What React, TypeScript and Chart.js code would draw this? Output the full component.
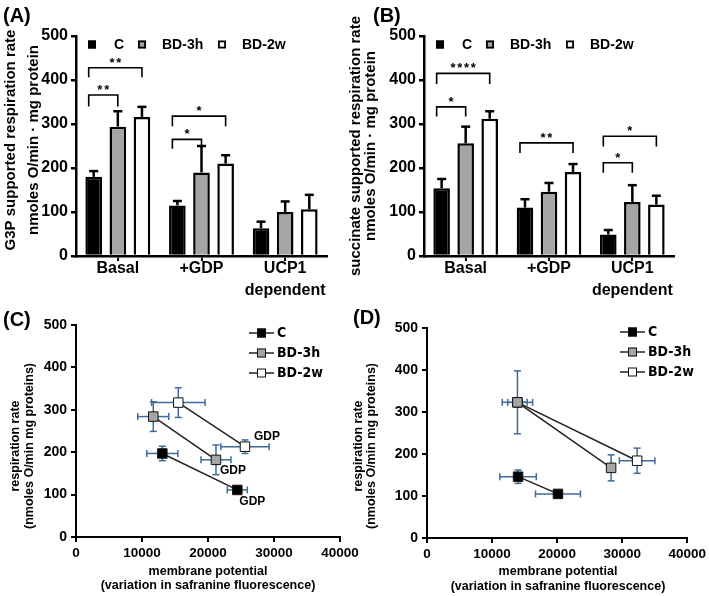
import React, { useEffect, useRef } from 'react';
import { Chart, registerables } from 'chart.js';
Chart.register(...registerables);

const W = 709;
const H = 596;
const SANS = '"Liberation Sans", Arial, sans-serif';
const NARROW = '"Liberation Sans Narrow", "DejaVu Sans Condensed", sans-serif';
const ERR_BLUE = '#3f6a9c';

// ---------- Panels A & B (bar charts) ----------
const categories = [['Basal'], ['+GDP'], ['UCP1', 'dependent']];
const groups = ['C', 'BD-3h', 'BD-2w'];
const barFills = ['#000000', '#a5a5a5', '#ffffff'];
const barYTicks = [0, 100, 200, 300, 400, 500];

// G3P supported respiration (panel A)
const g3pC = [180, 115, 63];
const g3pCErr = [13, 10, 15];
const g3p3h = [294, 190, 100];
const g3p3hErr = [35, 60, 24];
const g3p2w = [316, 210, 106];
const g3p2wErr = [23, 19, 33];

// succinate supported respiration (panel B)
const sucC = [154, 110, 49];
const sucCErr = [21, 19, 10];
const suc3h = [256, 146, 123];
const suc3hErr = [38, 20, 38];
const suc2w = [312, 191, 117];
const suc2wErr = [17, 18, 20];

// significance brackets: [category, fromGroup, toGroup, topValue, bottomValue, label]
const g3pBrackets = [
  [0, 0, 2, 428, 406, '**'],
  [0, 0, 1, 366, 340, '**'],
  [1, 0, 2, 318, 295, '*'],
  [1, 0, 1, 265, 244, '*'],
];
const sucBrackets = [
  [0, 0, 2, 415, 391, '****'],
  [0, 0, 1, 339, 317, '*'],
  [1, 0, 2, 257, 234, '**'],
  [2, 0, 2, 272, 249, '*'],
  [2, 0, 1, 212, 189, '*'],
];

// ---------- Panels C & D (scatter: membrane potential vs respiration) ----------
const scatterXTicks = [0, 10000, 20000, 30000, 40000];
const scatterYTicks = [0, 100, 200, 300, 400, 500];
const pointFills = ['#000000', '#a5a5a5', '#ffffff'];

// panel C (G3P)
const cC_x = [13080, 24440];
const cC_y = [197, 111];
const cC_xErr = [2350, 1520];
const cC_yErr = [17, 8];
const c3h_x = [11710, 21210];
const c3h_y = [284, 182];
const c3h_xErr = [2350, 2270];
const c3h_yErr = [35, 35];
const c2w_x = [15500, 25600];
const c2w_y = [317, 213];
const c2w_xErr = [4050, 3660];
const c2w_yErr = [35, 16];
const gdpLabel = 'GDP';

// panel D (succinate)
const dC_x = [14000, 20130];
const dC_y = [146, 105];
const dC_xErr = [2800, 3450];
const dC_yErr = [16, 3];
const d3h_x = [13900, 28300];
const d3h_y = [323, 167];
const d3h_xErr = [2330, 0];
const d3h_yErr = [75, 31];
const d2w_x = [13900, 32300];
const d2w_y = [323, 184];
const d2w_xErr = [1500, 2730];
const d2w_yErr = [10, 30];

// ---------- text ----------
const g3pTitle = ['G3P supported respiration rate', 'nmoles O/min \u00b7 mg protein'];
const sucTitle = ['succinate supported respiration rate', 'nmoles O/min \u00b7 mg protein'];
const respTitle = ['respiration rate', '(nmoles O/min mg proteins)'];
const potTitle = ['membrane potential', '(variation in safranine fluorescence)'];

function line(ctx: CanvasRenderingContext2D, x1: number, y1: number, x2: number, y2: number) {
  ctx.beginPath();
  ctx.moveTo(x1, y1);
  ctx.lineTo(x2, y2);
  ctx.stroke();
}

function makeDeco(cfg: any) {
  return {
    id: 'deco',
    beforeDatasetsDraw(chart: any) {
      if (!cfg.scatterErr) return;
      const ctx = chart.ctx;
      const xs = chart.scales.x;
      const ys = chart.scales.y;
      ctx.save();
      ctx.strokeStyle = ERR_BLUE;
      ctx.lineWidth = 1.5;
      cfg.scatterErr.forEach((e: any, di: number) => {
        const meta = chart.getDatasetMeta(di);
        meta.data.forEach((pt: any, i: number) => {
          const d = chart.data.datasets[di].data[i];
          const xe = e.x[i];
          const ye = e.y[i];
          const px = pt.x;
          const py = pt.y;
          if (xe > 0) {
            const l = xs.getPixelForValue(d.x - xe);
            const r = xs.getPixelForValue(d.x + xe);
            line(ctx, l, py, r, py);
            line(ctx, l, py - 3.5, l, py + 3.5);
            line(ctx, r, py - 3.5, r, py + 3.5);
          }
          if (ye > 0) {
            const t = ys.getPixelForValue(d.y + ye);
            const b = ys.getPixelForValue(d.y - ye);
            line(ctx, px, t, px, b);
            line(ctx, px - 3.5, t, px + 3.5, t);
            line(ctx, px - 3.5, b, px + 3.5, b);
          }
        });
      });
      ctx.restore();
    },
    afterDatasetsDraw(chart: any) {
      const ctx: CanvasRenderingContext2D = chart.ctx;
      const ys = chart.scales.y;
      ctx.save();
      // bar error bars
      if (cfg.barErr) {
        ctx.strokeStyle = '#000';
        ctx.lineWidth = 2.5;
        cfg.barErr.forEach((errs: number[], di: number) => {
          const meta = chart.getDatasetMeta(di);
          meta.data.forEach((bar: any, i: number) => {
            const v = chart.data.datasets[di].data[i];
            const top = ys.getPixelForValue(v + errs[i]);
            line(ctx, bar.x, bar.y, bar.x, top);
            line(ctx, bar.x - 4.5, top, bar.x + 4.5, top);
          });
        });
      }
      // significance brackets
      if (cfg.brackets) {
        ctx.strokeStyle = '#000';
        ctx.lineWidth = 1.6;
        ctx.fillStyle = '#000';
        ctx.font = 'bold 13px ' + SANS;
        ctx.textAlign = 'center';
        ctx.textBaseline = 'alphabetic';
        cfg.brackets.forEach((b: any) => {
          const [cat, g1, g2, vTop, vBot, label] = b;
          const b1 = chart.getDatasetMeta(g1).data[cat];
          const b2 = chart.getDatasetMeta(g2).data[cat];
          const x1 = b1.x - 5;
          const x2 = b2.x;
          const pt = ys.getPixelForValue(vTop);
          const pb = ys.getPixelForValue(vBot);
          ctx.beginPath();
          ctx.moveTo(x1, pb);
          ctx.lineTo(x1, pt);
          ctx.lineTo(x2, pt);
          ctx.lineTo(x2, pb);
          ctx.stroke();
          const n = label.length;
          const cx = (x1 + x2) / 2;
          for (let k = 0; k < n; k++) {
            ctx.fillText('*', cx + (k - (n - 1) / 2) * 6.8, pt - 1);
          }
        });
      }
      // bar legend
      if (cfg.barLegend) {
        const L = chart.chartArea.left;
        const sq = [12, 62, 142];
        const tx = [38, 86, 166];
        ctx.font = 'bold 14px ' + SANS;
        ctx.textAlign = 'left';
        ctx.textBaseline = 'alphabetic';
        groups.forEach((g, i) => {
          ctx.fillStyle = barFills[i];
          ctx.fillRect(L + sq[i], 40.5, 8, 8);
          ctx.strokeStyle = '#000';
          ctx.lineWidth = 1.8;
          ctx.strokeRect(L + sq[i] + 0.9, 41.4, 6.2, 6.2);
          ctx.fillStyle = '#000';
          ctx.fillText(g, L + tx[i], 48.5);
        });
      }
      // line legend
      if (cfg.lineLegend) {
        const { x: L, rows } = cfg.lineLegend;
        ctx.font = 'bold 14px ' + NARROW;
        ctx.textAlign = 'left';
        ctx.textBaseline = 'middle';
        groups.forEach((g, i) => {
          const y = rows[i];
          ctx.strokeStyle = '#222';
          ctx.lineWidth = 1.5;
          line(ctx, L, y, L + 25, y);
          ctx.fillStyle = pointFills[i];
          ctx.fillRect(L + 8, y - 4.5, 9, 9);
          ctx.strokeStyle = '#111';
          ctx.lineWidth = 1;
          ctx.strokeRect(L + 8.5, y - 4, 8, 8);
          ctx.fillStyle = '#000';
          ctx.fillText(g, L + 28, y + 0.5);
        });
      }
      // point labels (GDP)
      if (cfg.pointLabels) {
        ctx.font = 'bold 12px ' + SANS;
        ctx.fillStyle = '#000';
        ctx.textAlign = 'left';
        ctx.textBaseline = 'middle';
        cfg.pointLabels.forEach((p: any) => {
          const pt = chart.getDatasetMeta(p.ds).data[p.idx];
          ctx.fillText(p.text, pt.x + p.dx, pt.y + p.dy);
        });
      }
      // free texts
      if (cfg.texts) {
        ctx.fillStyle = '#000';
        cfg.texts.forEach((t: any) => {
          ctx.save();
          ctx.font = t.font;
          ctx.textAlign = t.align || 'left';
          ctx.textBaseline = t.baseline || 'alphabetic';
          ctx.translate(t.x, t.y);
          if (t.rot) ctx.rotate(t.rot);
          ctx.fillText(t.t, 0, 0);
          ctx.restore();
        });
      }
      ctx.restore();
    },
  };
}

function barConfig(vals: number[][], errs: number[][], brackets: any[], area: any, texts: any[]) {
  const yW = 60;
  const xH = 56;
  return {
    type: 'bar',
    data: {
      labels: categories,
      datasets: groups.map((g, i) => ({
        label: g,
        data: vals[i],
        backgroundColor: barFills[i],
        borderColor: '#000',
        borderWidth: 2.5,
        categoryPercentage: 0.865,
        barPercentage: 0.69,
      })),
    },
    options: {
      responsive: false,
      animation: false,
      events: [],
      layout: {
        padding: { left: area.left - yW, top: area.top, right: W - area.right, bottom: H - area.bottom - xH },
      },
      plugins: { legend: { display: false }, tooltip: { enabled: false } },
      scales: {
        x: {
          grid: { drawOnChartArea: false, offset: false, drawTicks: true, tickLength: 5, color: '#000', lineWidth: 2 },
          border: { display: true, color: '#000', width: 2.5 },
          ticks: {
            color: '#000',
            font: { family: SANS, size: 16, weight: 'bold', lineHeight: 1.35 },
            padding: -3,
            maxRotation: 0,
            autoSkip: false,
          },
          afterFit: (s: any) => { s.height = xH; },
        },
        y: {
          min: 0,
          max: 500,
          grid: { drawOnChartArea: false, drawTicks: true, tickLength: 5, color: '#000', lineWidth: 2.5 },
          border: { display: true, color: '#000', width: 2.5 },
          ticks: { color: '#000', font: { family: SANS, size: 16, weight: 'bold' }, padding: 3 },
          afterBuildTicks: (s: any) => { s.ticks = barYTicks.map((v) => ({ value: v })); },
          afterFit: (s: any) => { s.width = yW; },
        },
      },
    },
    plugins: [makeDeco({ barErr: errs, brackets, barLegend: true, texts })],
  };
}

function scatterDataset(label: string, xs: number[], ys: number[], i: number) {
  return {
    label,
    data: xs.map((x, k) => ({ x, y: ys[k] })),
    showLine: true,
    borderColor: '#222',
    borderWidth: 1.5,
    pointStyle: 'rect',
    pointRadius: 6.7,
    pointBackgroundColor: pointFills[i],
    pointBorderColor: '#111',
    pointBorderWidth: 1,
  };
}

function scatterConfig(sets: any[], errs: any[], area: any, texts: any[], legend: any, pointLabels: any[] | null) {
  const yW = 50;
  const xH = 30;
  return {
    type: 'scatter',
    data: { datasets: sets },
    options: {
      responsive: false,
      animation: false,
      events: [],
      layout: {
        padding: { left: area.left - yW, top: area.top, right: W - area.right, bottom: H - area.bottom - xH },
      },
      plugins: { legend: { display: false }, tooltip: { enabled: false } },
      scales: {
        x: {
          type: 'linear',
          min: 0,
          max: 40000,
          grid: { drawOnChartArea: false, drawTicks: true, tickLength: 5, color: '#000', lineWidth: 2 },
          border: { display: true, color: '#000', width: 2 },
          ticks: {
            color: '#000',
            font: { family: SANS, size: 13.5, weight: 'bold' },
            padding: 3,
            maxRotation: 0,
            autoSkip: false,
            callback: (v: any) => String(v),
          },
          afterBuildTicks: (s: any) => { s.ticks = scatterXTicks.map((v) => ({ value: v })); },
          afterFit: (s: any) => { s.height = xH; },
        },
        y: {
          min: 0,
          max: 500,
          grid: { drawOnChartArea: false, drawTicks: true, tickLength: 5, color: '#000', lineWidth: 2 },
          border: { display: true, color: '#000', width: 2 },
          ticks: { color: '#000', font: { family: SANS, size: 14, weight: 'bold' }, padding: 4, callback: (v: any) => String(v) },
          afterBuildTicks: (s: any) => { s.ticks = scatterYTicks.map((v) => ({ value: v })); },
          afterFit: (s: any) => { s.width = yW; },
        },
      },
    },
    plugins: [makeDeco({ scatterErr: errs, lineLegend: legend, pointLabels, texts })],
  };
}

const ROT = -Math.PI / 2;
const panelFont = 'bold 20px ' + SANS;
const barTitleFont = 'bold 15px ' + SANS;
const scTitleFont = 'bold 12.5px ' + SANS;

function rotTexts(lines: string[], xs: number[], cy: number, font: string) {
  return lines.map((t, i) => ({ t, x: xs[i], y: cy, font, rot: ROT, align: 'center', baseline: 'middle' }));
}
function horTexts(lines: string[], cx: number, ys: number[], font: string) {
  return lines.map((t, i) => ({ t, x: cx, y: ys[i], font, align: 'center', baseline: 'middle' }));
}

export default function App() {
  const refs = [useRef<HTMLCanvasElement>(null), useRef<HTMLCanvasElement>(null), useRef<HTMLCanvasElement>(null), useRef<HTMLCanvasElement>(null)];

  useEffect(() => {
    const cfgA = barConfig(
      [g3pC, g3p3h, g3p2w],
      [g3pCErr, g3p3hErr, g3p2wErr],
      g3pBrackets,
      { left: 76, top: 36, right: 327, bottom: 256 },
      [{ t: '(A)', x: 3, y: 22, font: panelFont }, ...rotTexts(g3pTitle, [11, 34], 140, barTitleFont)]
    );
    const cfgB = barConfig(
      [sucC, suc3h, suc2w],
      [sucCErr, suc3hErr, suc2wErr],
      sucBrackets,
      { left: 424, top: 36, right: 674, bottom: 256 },
      [{ t: '(B)', x: 373, y: 22, font: panelFont }, ...rotTexts(sucTitle, [356, 371], 146, barTitleFont)]
    );
    const cfgC = scatterConfig(
      [scatterDataset('C', cC_x, cC_y, 0), scatterDataset('BD-3h', c3h_x, c3h_y, 1), scatterDataset('BD-2w', c2w_x, c2w_y, 2)],
      [
        { x: cC_xErr, y: cC_yErr },
        { x: c3h_xErr, y: c3h_yErr },
        { x: c2w_xErr, y: c2w_yErr },
      ],
      { left: 76, top: 325, right: 340, bottom: 537 },
      [
        { t: '(C)', x: 3, y: 326, font: panelFont },
        ...rotTexts(respTitle, [16, 30], 446, scTitleFont),
        ...horTexts(potTitle, 208, [572, 586], scTitleFont),
      ],
      { x: 249, rows: [333, 353, 373] },
      [
        { ds: 2, idx: 1, text: gdpLabel, dx: 9, dy: -10 },
        { ds: 1, idx: 1, text: gdpLabel, dx: 4, dy: 11 },
        { ds: 0, idx: 1, text: gdpLabel, dx: 2, dy: 12 },
      ]
    );
    const cfgD = scatterConfig(
      [scatterDataset('C', dC_x, dC_y, 0), scatterDataset('BD-3h', d3h_x, d3h_y, 1), scatterDataset('BD-2w', d2w_x, d2w_y, 2)],
      [
        { x: dC_xErr, y: dC_yErr },
        { x: d3h_xErr, y: d3h_yErr },
        { x: d2w_xErr, y: d2w_yErr },
      ],
      { left: 427, top: 328, right: 688, bottom: 538 },
      [
        { t: '(D)', x: 353, y: 324, font: panelFont },
        ...rotTexts(respTitle, [359, 372], 446, scTitleFont),
        ...horTexts(potTitle, 558, [572, 587], scTitleFont),
      ],
      { x: 620, rows: [332, 352, 372] },
      null
    );
    const charts = [cfgA, cfgB, cfgC, cfgD].map((cfg, i) => new Chart(refs[i].current as HTMLCanvasElement, cfg as any));
    return () => charts.forEach((c) => c.destroy());
  }, []);

  return (
    <div style={{ position: 'absolute', left: 0, top: 0, width: W, height: H, background: '#fff', overflow: 'hidden' }}>
      {refs.map((r, i) => (
        <canvas key={i} ref={r} width={W} height={H} style={{ position: 'absolute', left: 0, top: 0 }} />
      ))}
    </div>
  );
}
